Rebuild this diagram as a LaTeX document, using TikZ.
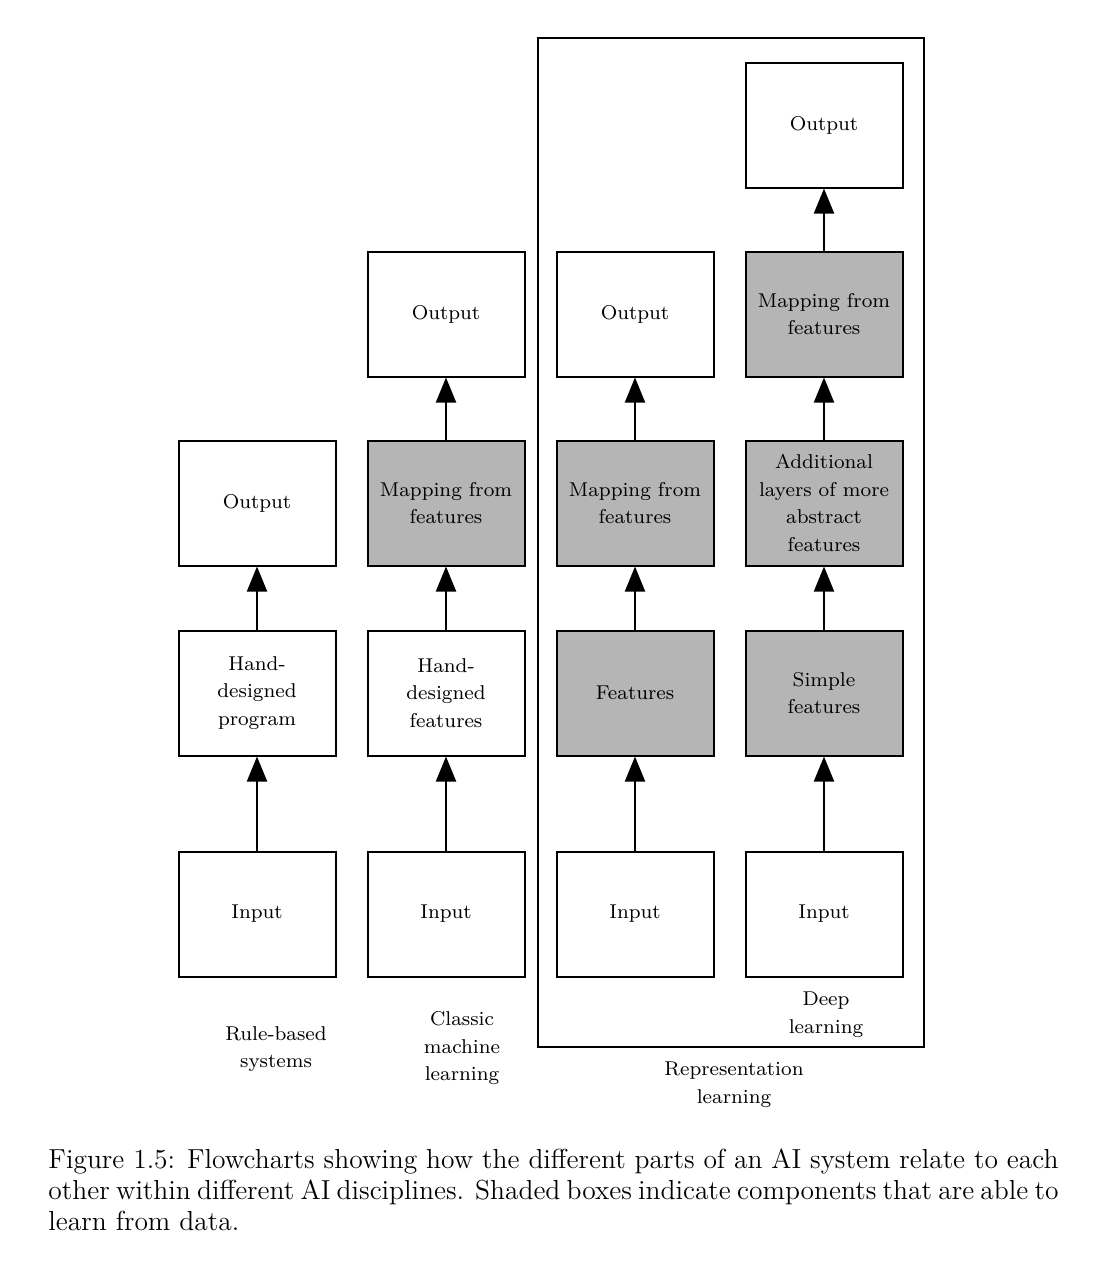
\documentclass[tikz,border=0pt]{standalone}
\usetikzlibrary{arrows.meta}
\definecolor{shadegray}{gray}{0.71}
\begin{document}
\begin{tikzpicture}[x=0.4pt,y=-0.4pt,
  box/.style={draw, line width=0.8pt, minimum width=62.8pt, minimum height=50pt,
    inner sep=0pt, align=center, font=\fontsize{8}{11.1}\selectfont},
  learn/.style={box, fill=shadegray},
  arr/.style={-{Triangle[length=10pt,width=8pt]}, line width=0.8pt},
  lbl/.style={align=center, inner sep=0pt, font=\fontsize{8}{11.1}\selectfont}]
\useasboundingbox (0,0) rectangle (1114,1274);
% frame for representation learning
\node[draw, line width=0.8pt, minimum width=154.4pt, minimum height=403.6pt, inner sep=0pt] (rep) at (731,542.5) {};
% column 1: rule-based
\node[box] (a1) at (257,914) {Input};
\node[box] (a2) at (257,693) {Hand-\\designed\\program};
\node[box] (a3) at (257,503) {Output};
% column 2: classic ML
\node[box] (b1) at (446,914) {Input};
\node[box] (b2) at (446,693) {Hand-\\designed\\features};
\node[learn] (b3) at (446,503) {Mapping from\\features};
\node[box] (b4) at (446,314) {Output};
% column 3: representation learning
\node[box] (c1) at (635,914) {Input};
\node[learn] (c2) at (635,693) {Features};
\node[learn] (c3) at (635,503) {Mapping from\\features};
\node[box] (c4) at (635,314) {Output};
% column 4: deep learning
\node[box] (d1) at (824,914) {Input};
\node[learn] (d2) at (824,693) {Simple\\features};
\node[learn] (d3) at (824,503) {Additional\\layers of more\\abstract\\features};
\node[learn] (d4) at (824,314) {Mapping from\\features};
\node[box] (d5) at (824,125) {Output};
% arrows
\draw[arr] (a1) -- (a2);
\draw[arr] (a2) -- (a3);
\draw[arr] (b1) -- (b2);
\draw[arr] (b2) -- (b3);
\draw[arr] (b3) -- (b4);
\draw[arr] (c1) -- (c2);
\draw[arr] (c2) -- (c3);
\draw[arr] (c3) -- (c4);
\draw[arr] (d1) -- (d2);
\draw[arr] (d2) -- (d3);
\draw[arr] (d3) -- (d4);
\draw[arr] (d4) -- (d5);
% labels
\node[lbl] (l1) at (276,1049) {Rule-based\\systems};
\node[lbl] (l2) at (462,1048) {Classic\\machine\\learning};
\node[lbl] (l3) at (734,1085) {Representation\\learning};
\node[lbl] (l4) at (826,1015) {Deep\\learning};
% caption
\node[anchor=north west, text width=404pt, align=justify, inner sep=0pt,
  font=\fontsize{11}{12.4}\selectfont] (cap) at (48,1148)
  {Figure 1.5: Flowcharts showing how the different parts of an AI system relate to each\linebreak
   other within different AI disciplines. Shaded boxes indicate components that are able to\linebreak
   learn from data.};
\end{tikzpicture}
\end{document}
